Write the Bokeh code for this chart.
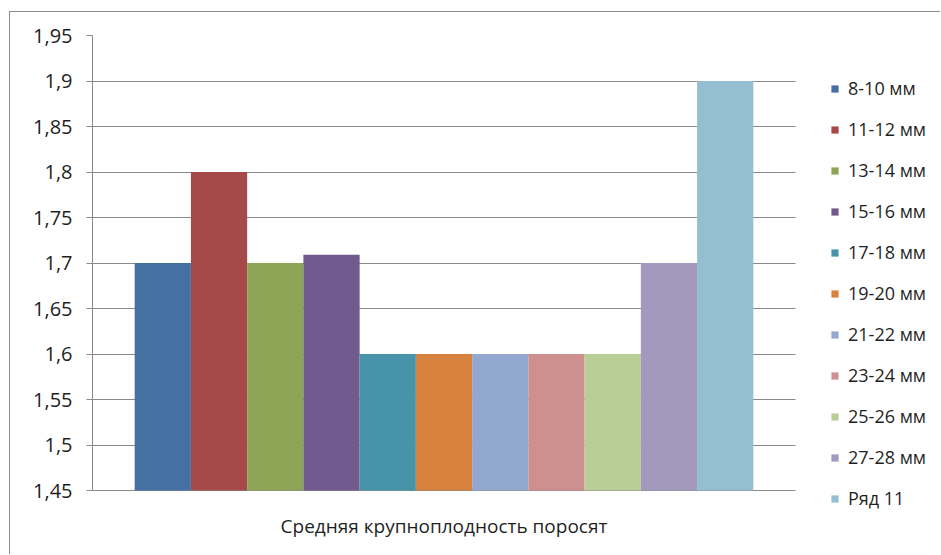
from bokeh.plotting import figure
from bokeh.models import Range1d, FixedTicker, Legend, LegendItem
from bokeh.embed import file_html
from bokeh.resources import INLINE

# ---- data ----
category = "Средняя крупноплодность поросят"
series = ["8-10 мм", "11-12 мм", "13-14 мм", "15-16 мм", "17-18 мм", "19-20 мм",
          "21-22 мм", "23-24 мм", "25-26 мм", "27-28 мм", "Ряд 11"]
values = [1.7, 1.8, 1.7, 1.709, 1.6, 1.6, 1.6, 1.6, 1.6, 1.7, 1.9]
colors = ["#4470A2", "#A54A48", "#8EA457", "#705A8E", "#4794AA", "#D8823F",
          "#92A8CF", "#CE908F", "#B9CD96", "#A399BF", "#93BFD1"]
tick_values = [1.45, 1.5, 1.55, 1.6, 1.65, 1.7, 1.75, 1.8, 1.85, 1.9, 1.95]
tick_labels = ["1,45", "1,5", "1,55", "1,6", "1,65", "1,7", "1,75", "1,8", "1,85", "1,9", "1,95"]

FONT = "Open Sans"
TXT = "#1f1f1f"
GRID = "#8a8a8a"

# ---- layout (pixels) ----
W, H = 931, 543            # figure size inside the outer chart border
LEFT, TOP, BOTTOM = 82, 23, 45
PLOT_W, PLOT_H = 703, 455  # size of the value area (0..1 , 1.45..1.95)
frame_w = W - LEFT
frame_h = H - TOP - BOTTOM
y0, y1 = tick_values[0], tick_values[-1]
# the frame also hosts the legend, so the ranges are widened beyond the value area
x_end = frame_w / PLOT_W
y_start = y1 - (frame_h / PLOT_H) * (y1 - y0)

p = figure(width=W, height=H, output_backend="svg", toolbar_location=None,
           x_range=Range1d(0, x_end), y_range=Range1d(y_start, y1),
           min_border_left=LEFT, min_border_right=0, min_border_top=TOP,
           min_border_bottom=BOTTOM)
p.styles = {"margin-left": "9px", "margin-top": "11px",
            "border-left": "1px solid #8c8c8c", "border-top": "1px solid #8c8c8c"}
p.outline_line_color = None
p.background_fill_color = "white"
p.border_fill_color = "white"

# Excel-like gap width 150%
n = len(series)
gap = 1.5
bw = 1.0 / (n + gap)
start = gap * bw / 2

items = []
for i, (s, v, c) in enumerate(zip(series, values, colors)):
    r = p.vbar(x=start + bw * (i + 0.5), top=v, bottom=y0, width=bw,
               fill_color=c, line_color=None)
    items.append(LegendItem(label=s, renderers=[r]))

# y axis
yax = p.yaxis[0]
yax.ticker = FixedTicker(ticks=tick_values)
yax.major_label_overrides = dict(zip(tick_values, tick_labels))
yax.bounds = (y0, y1)
yax.axis_line_color = GRID
yax.major_tick_line_color = GRID
yax.major_tick_out = 6
yax.major_tick_in = 0
yax.minor_tick_line_color = None
yax.major_label_standoff = 14
yax.major_label_text_font = FONT
yax.major_label_text_font_size = "20px"
yax.major_label_text_color = TXT

# x axis (category label only; baseline is the 1.45 grid line)
xax = p.xaxis[0]
xax.ticker = FixedTicker(ticks=[0.5])
xax.major_label_overrides = {0.5: category}
xax.axis_line_color = None
xax.major_tick_line_color = None
xax.minor_tick_line_color = None
xax.major_label_standoff = -4
xax.major_label_text_font = FONT
xax.major_label_text_font_size = "19px"
xax.major_label_text_color = TXT

p.xgrid.grid_line_color = None
p.ygrid.ticker = FixedTicker(ticks=tick_values)
p.ygrid.cross_bounds = (0, 1)
p.ygrid.grid_line_color = GRID
p.ygrid.grid_line_width = 1

legend = Legend(items=items, location=(738, 0), orientation="vertical",
                glyph_width=9, glyph_height=9, label_height=24, spacing=17,
                label_standoff=9, padding=0, margin=0,
                border_line_color=None, background_fill_alpha=0,
                label_text_font=FONT, label_text_font_size="18px",
                label_text_color=TXT)
p.add_layout(legend, "center")

open("out.html", "w").write(file_html(p, INLINE))
